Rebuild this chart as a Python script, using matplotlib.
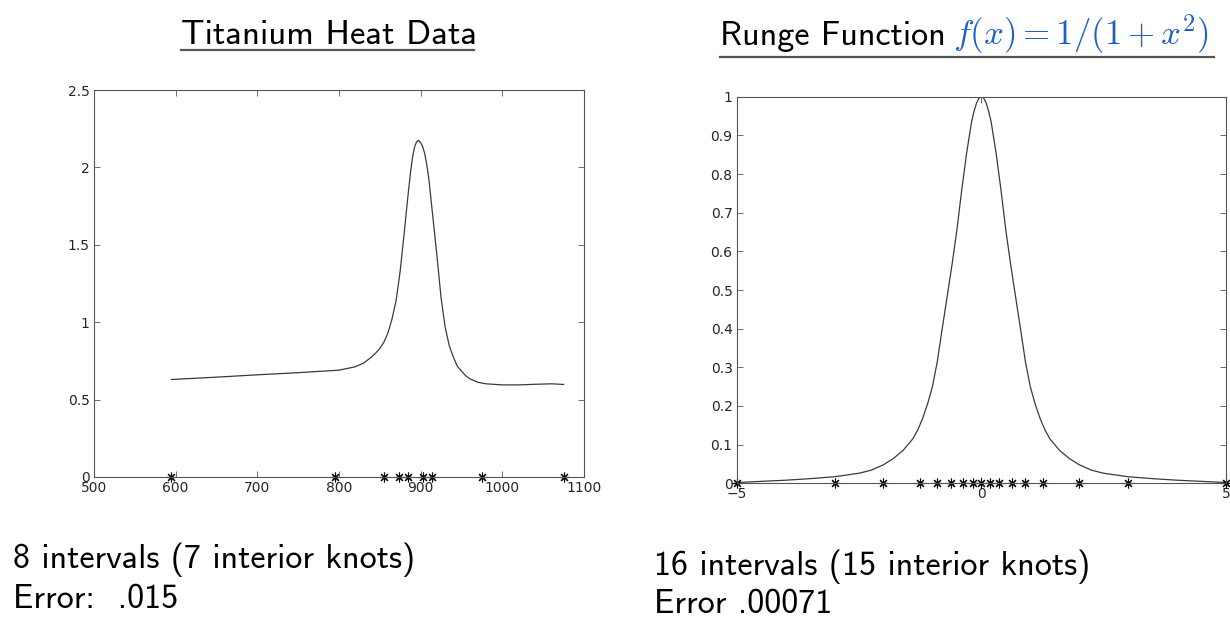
import os
import matplotlib
matplotlib.use("Agg")
import matplotlib.pyplot as plt
from matplotlib.lines import Line2D
from matplotlib.font_manager import FontProperties

plt.rcParams['mathtext.fontset'] = 'cm'

# ---------------- data ----------------
# Titanium heat data: fitted spline curve
ti_x = [595, 650, 700, 750, 800, 820, 830, 840, 845, 850, 855, 860, 865, 870,
        875, 880, 885, 887.5, 890, 892.5, 895, 897.5, 900, 902.5, 905, 907.5,
        910, 915, 920, 925, 930, 935, 940, 945, 950, 955, 960, 970, 980, 1000,
        1020, 1040, 1060, 1075]
ti_y = [0.630, 0.645, 0.660, 0.674, 0.690, 0.712, 0.735, 0.775, 0.800, 0.830,
        0.870, 0.930, 1.020, 1.140, 1.330, 1.580, 1.840, 1.960, 2.060, 2.130,
        2.165, 2.175, 2.160, 2.135, 2.090, 2.020, 1.930, 1.680, 1.430, 1.160,
        0.970, 0.850, 0.775, 0.715, 0.685, 0.655, 0.635, 0.612, 0.602, 0.595,
        0.595, 0.599, 0.602, 0.598]
ti_knots = [595, 795, 855, 873, 885, 903, 914, 975, 1075]

# Runge function: fitted spline curve
ru_x = [-5, -4.5, -4, -3.5, -3, -2.5, -2.25, -2, -1.8, -1.6, -1.4, -1.3, -1.2,
        -1.1, -1.0, -0.9, -0.8, -0.7, -0.6, -0.5, -0.4, -0.3, -0.2, -0.15,
        -0.1, -0.05, 0,
        0.05, 0.1, 0.15, 0.2, 0.3, 0.4, 0.5, 0.6, 0.7, 0.8, 0.9, 1.0, 1.1,
        1.2, 1.3, 1.4, 1.6, 1.8, 2, 2.25, 2.5, 3, 3.5, 4, 4.5, 5]
ru_y = [0.002, 0.005, 0.008, 0.012, 0.017, 0.026, 0.034, 0.048, 0.064, 0.085,
        0.115, 0.138, 0.168, 0.205, 0.250, 0.315, 0.400, 0.482, 0.565, 0.655,
        0.760, 0.855, 0.935, 0.962, 0.983, 0.996, 1.000,
        0.996, 0.983, 0.962, 0.935, 0.855, 0.760, 0.655, 0.565, 0.482, 0.400,
        0.315, 0.250, 0.205, 0.168, 0.138, 0.115, 0.085, 0.064, 0.048, 0.034,
        0.026, 0.017, 0.012, 0.008, 0.005, 0.002]
ru_knots = [-5, -3, -2, -1.25, -0.9, -0.63, -0.37, -0.17, 0, 0.17, 0.37, 0.63,
            0.9, 1.25, 2, 3, 5]

ti_xticks = [500, 600, 700, 800, 900, 1000, 1100]
ti_yticks = [0, 0.5, 1, 1.5, 2, 2.5]
ti_yticklabels = ['0', '0.5', '1', '1.5', '2', '2.5']
ru_xticks = [-5, 0, 5]
ru_yticks = [0, 0.1, 0.2, 0.3, 0.4, 0.5, 0.6, 0.7, 0.8, 0.9, 1]
ru_yticklabels = ['0', '0.1', '0.2', '0.3', '0.4', '0.5', '0.6', '0.7', '0.8', '0.9', '1']

W, H = 1230, 617
fig = plt.figure(figsize=(W / 100, H / 100), dpi=100)

AX_COL = '#262626'
SPINE_COL = '#555555'
ast = (8, 2, 0)

cmss_path = os.path.join(matplotlib.get_data_path(), 'fonts', 'ttf', 'cmss10.ttf')


def cmss(size):
    return FontProperties(fname=cmss_path, size=size)


def style(ax):
    for s in ax.spines.values():
        s.set_color(SPINE_COL)
        s.set_linewidth(0.8)
    ax.tick_params(direction='in', length=4, width=0.6, color=SPINE_COL,
                   top=True, right=True, labelsize=10, labelcolor=AX_COL, pad=3)


# Left axes
ax1 = fig.add_axes([93.8 / W, 1 - 477 / H, (584 - 93.8) / W, (477 - 90) / H])
ax1.plot(ti_x, ti_y, color='#3a3a3a', lw=0.9)
ax1.plot(ti_knots, [0] * len(ti_knots), linestyle='none', marker=ast,
         markersize=7, mec='black', mew=0.8, clip_on=False)
ax1.set_xlim(500, 1100)
ax1.set_ylim(0, 2.5)
ax1.set_xticks(ti_xticks)
ax1.set_yticks(ti_yticks)
ax1.set_yticklabels(ti_yticklabels)
style(ax1)

# Right axes
ax2 = fig.add_axes([736.7 / W, 1 - 483.3 / H, (1226 - 736.7) / W, (483.3 - 96.7) / H])
ax2.plot(ru_x, ru_y, color='#3a3a3a', lw=0.9)
ax2.plot(ru_knots, [0] * len(ru_knots), linestyle='none', marker=ast,
         markersize=7, mec='black', mew=0.8, clip_on=False)
ax2.set_xlim(-5, 5)
ax2.set_ylim(0, 1)
ax2.set_xticks(ru_xticks)
ax2.set_yticks(ru_yticks)
ax2.set_yticklabels(ru_yticklabels)
style(ax2)


def fx(px):
    return px / W


def fy(py):
    return 1 - py / H


# Titles
fig.text(fx(181), fy(44), 'Titanium Heat Data', fontproperties=cmss(25),
         va='baseline', ha='left', color='black')
fig.add_artist(Line2D([fx(181), fx(474)], [fy(50), fy(50)], color='#555555', lw=1.6))

fig.text(fx(720), fy(45), 'Runge Function', fontproperties=cmss(24.5),
         va='baseline', ha='left', color='black')
fig.text(fx(953), fy(45), r'$f(x) = 1/(1+x^2)$', fontsize=25,
         va='baseline', ha='left', color='#1f5fc8')
fig.add_artist(Line2D([fx(720), fx(1214)], [fy(57), fy(57)], color='#555555', lw=1.6))

# Bottom captions
fig.text(fx(13), fy(568), '8 intervals (7 interior knots)', fontproperties=cmss(24.5),
         va='baseline', ha='left')
fig.text(fx(13), fy(608), 'Error:  .015', fontproperties=cmss(24.5),
         va='baseline', ha='left')
fig.text(fx(654), fy(575), '16 intervals (15 interior knots)', fontproperties=cmss(24.5),
         va='baseline', ha='left')
fig.text(fx(654), fy(613), 'Error .00071', fontproperties=cmss(24.5),
         va='baseline', ha='left')

fig.savefig('out.png', dpi=100)
